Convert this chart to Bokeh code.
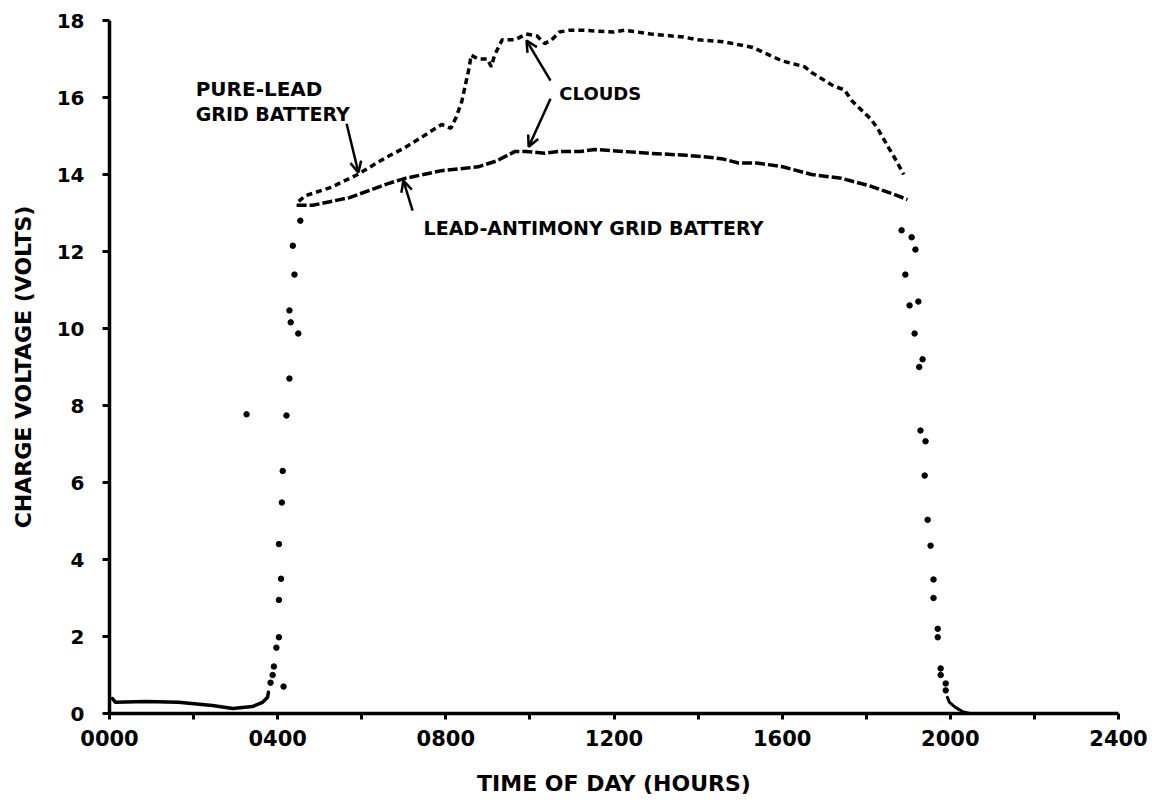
from bokeh.plotting import figure
from bokeh.models import FixedTicker, Label, Arrow, OpenHead
from bokeh.embed import file_html
from bokeh.resources import INLINE

# ---------------- data ----------------
# time in hours after midnight, voltage in volts
pure_lead_hr = [450, 466, 528, 590, 659, 703, 747, 790, 812, 825, 838, 847, 856, 860,
                877, 899, 908, 916, 934, 965, 991, 1017, 1035, 1052, 1070, 1096, 1120,
                1199, 1225, 1287, 1365, 1399, 1460, 1530, 1600, 1653, 1670, 1722, 1748,
                1767, 1810, 1827, 1853, 1872, 1889]
pure_lead_v = [13.3, 13.45, 13.67, 14.0, 14.45, 14.7, 15.0, 15.3, 15.2, 15.5, 15.9, 16.35,
               16.8, 17.1, 17.0, 17.0, 16.8, 17.1, 17.5, 17.5, 17.65, 17.6, 17.4, 17.5,
               17.7, 17.75, 17.75, 17.7, 17.75, 17.65, 17.57, 17.5, 17.45, 17.3, 16.95,
               16.8, 16.65, 16.3, 16.2, 15.9, 15.45, 15.2, 14.7, 14.35, 14.0]

antimony_hr = [445, 483, 571, 659, 703, 790, 835, 877, 920, 965, 991, 1035, 1070, 1120,
               1154, 1287, 1372, 1425, 1460, 1496, 1539, 1601, 1670, 1741, 1810, 1862, 1898]
antimony_v = [13.2, 13.2, 13.4, 13.75, 13.9, 14.1, 14.15, 14.2, 14.35, 14.6, 14.6, 14.55,
              14.6, 14.6, 14.65, 14.55, 14.5, 14.45, 14.4, 14.3, 14.3, 14.2, 14.0, 13.9,
              13.7, 13.5, 13.35]

night_hr = [7, 14, 86, 164, 245, 293, 340, 364, 376, 378]
night_v = [0.39, 0.29, 0.31, 0.29, 0.21, 0.13, 0.18, 0.29, 0.42, 0.55]

rise_hr = [383, 388, 391, 397, 403, 403, 408, 403, 410, 412, 421, 428, 449, 431, 428,
           440, 436, 454, 414, 326]
rise_v = [0.8, 1.0, 1.22, 1.71, 1.98, 2.95, 3.5, 4.4, 5.48, 6.3, 7.74, 8.7, 9.87, 10.16,
          10.47, 11.4, 12.15, 12.8, 0.7, 7.77]

fall_hr = [1884, 1908, 1917, 1893, 1903, 1924, 1915, 1934, 1926, 1929, 1941, 1939, 1946,
           1953, 1960, 1960, 1970, 1970, 1977, 1977, 1989, 1989]
fall_v = [12.55, 12.37, 12.05, 11.4, 10.6, 10.7, 9.87, 9.2, 9.0, 7.35, 7.07, 6.18, 5.03,
          4.36, 3.48, 3.0, 2.2, 1.98, 1.17, 1.0, 0.78, 0.6]

tail_hr = [1993, 1998, 2012, 2029, 2046]
tail_v = [0.42, 0.29, 0.16, 0.05, 0.0]

x_ticks = [0, 400, 800, 1200, 1600, 2000, 2400]
x_tick_labels = ["0000", "0400", "0800", "1200", "1600", "2000", "2400"]
x_minor = [200, 600, 1000, 1400, 1800, 2200]
y_ticks = [0, 2, 4, 6, 8, 10, 12, 14, 16, 18]

FONT = "DejaVu Sans"

p = figure(width=1150, height=803, x_range=(0, 2400), y_range=(0, 18),
           output_backend="svg", toolbar_location=None,
           min_border_left=109, min_border_top=20, min_border_bottom=90,
           min_border_right=32)
p.outline_line_color = None
p.grid.grid_line_color = None
p.background_fill_color = "white"
p.border_fill_color = "white"

# ---------------- axes ----------------
p.xaxis.ticker = FixedTicker(ticks=x_ticks, minor_ticks=x_minor)
p.xaxis.major_label_overrides = {t: s for t, s in zip(x_ticks, x_tick_labels)}
p.yaxis.ticker = FixedTicker(ticks=y_ticks)
for ax in (p.xaxis, p.yaxis):
    ax.axis_line_width = 3.5
    ax.axis_line_color = "black"
    ax.major_tick_line_width = 3
    ax.minor_tick_line_width = 3
    ax.major_tick_in = 0
    ax.minor_tick_in = 0
    ax.major_label_text_font = FONT
    ax.major_label_text_font_style = "bold"
    ax.major_label_text_color = "black"
    ax.axis_label_text_font = FONT
    ax.axis_label_text_font_style = "bold"
    ax.axis_label_text_font_size = "22px"
    ax.axis_label_text_color = "black"
p.xaxis.major_label_text_font_size = "21px"
p.yaxis.major_label_text_font_size = "20px"
p.xaxis.major_tick_out = 6
p.xaxis.minor_tick_out = 6
p.yaxis.major_tick_out = 7
p.yaxis.minor_tick_line_color = None
p.xaxis.major_label_standoff = 10
p.yaxis.major_label_standoff = 18
p.xaxis.axis_label = "TIME OF DAY (HOURS)"
p.yaxis.axis_label = "CHARGE VOLTAGE (VOLTS)"
p.xaxis.axis_label_standoff = 22
p.yaxis.axis_label_standoff = 18

# ---------------- curves ----------------
p.line(pure_lead_hr, pure_lead_v, line_color="black", line_width=3.5,
       line_dash="6 4", line_cap="butt")
p.line(antimony_hr, antimony_v, line_color="black", line_width=3.5,
       line_dash="10 3", line_cap="butt")
p.line(night_hr, night_v, line_color="black", line_width=3.5, line_cap="round")
p.line(tail_hr, tail_v, line_color="black", line_width=3, line_cap="round")
p.scatter(rise_hr, rise_v, size=5.5, color="black")
p.scatter(fall_hr, fall_v, size=5.5, color="black")

# ---------------- annotations ----------------
def lab(x, y, t, size="19px"):
    p.add_layout(Label(x=x, y=y, text=t, text_font=FONT, text_font_style="bold",
                       text_font_size=size, text_color="black",
                       text_baseline="middle", text_align="left"))

lab(205, 16.23, "PURE-LEAD", "20px")
lab(205, 15.58, "GRID BATTERY")
lab(1070, 16.1, "CLOUDS", "18px")
lab(747, 12.62, "LEAD-ANTIMONY GRID BATTERY")

def arrow(x0, y0, x1, y1):
    p.add_layout(Arrow(x_start=x0, y_start=y0, x_end=x1, y_end=y1,
                       line_width=2.5, line_color="black",
                       end=OpenHead(size=11, line_width=2.5, line_color="black")))

arrow(564, 15.32, 592, 14.05)
arrow(721, 13.06, 699, 13.84)
arrow(1049, 16.44, 992, 17.48)
arrow(1049, 15.97, 997, 14.72)

open("out.html", "w").write(file_html(p, INLINE))
